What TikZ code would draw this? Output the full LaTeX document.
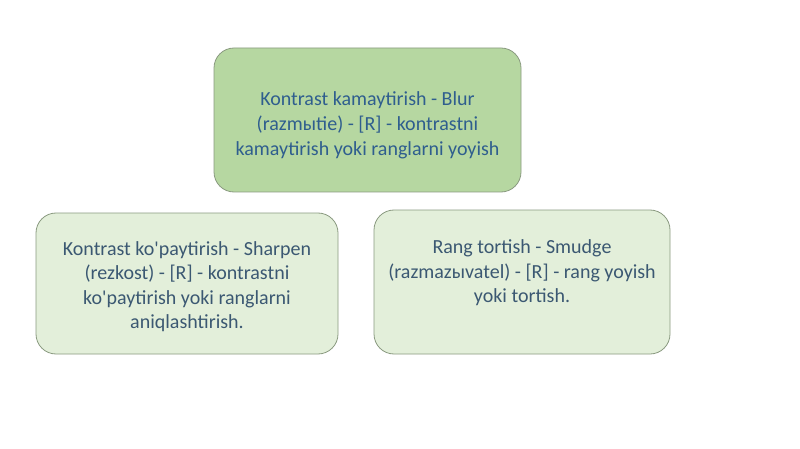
\documentclass[tikz,border=0pt]{standalone}
\usepackage{fontspec}
\setmainfont{Carlito}
\newfontfamily\boxfont{Carlito}
\definecolor{topfill}{HTML}{B6D7A1}
\definecolor{subfill}{HTML}{E3EFDA}
\definecolor{boxline}{HTML}{8A9A80}
\definecolor{toptext}{HTML}{2F5E8E}
\definecolor{subtext}{HTML}{3B5872}
\tikzset{
  box/.style={draw=boxline, line width=0.8pt, rounded corners=20pt, inner sep=0pt},
  topbox/.style={box, fill=topfill},
  subbox/.style={box, fill=subfill},
  txt/.style={align=center, inner sep=0pt, font=\boxfont\fontsize{20}{24.5}\selectfont},
}
\begin{document}
\begin{tikzpicture}[x=1pt,y=-1pt]
\useasboundingbox (0,0) rectangle (800,449);
\fill[white] (0,0) rectangle (800,449);
\node[topbox, minimum width=307pt, minimum height=144pt] (top) at (367.5,120) {};
\node[subbox, minimum width=302pt, minimum height=141pt] (left) at (187,283.5) {};
\node[subbox, minimum width=296pt, minimum height=144pt] (right) at (522,282) {};
\node[txt, text=toptext, font=\boxfont\fontsize{20}{25}\selectfont] (toptxt) at (367.5,125.5)
  {Kontrast kamaytirish - Blur\\(razmыtie) - [R] - kontrastni\\kamaytirish yoki ranglarni yoyish};
\node[txt, text=subtext] (lefttxt) at (187,286.5)
  {Kontrast ko'paytirish - Sharpen\\(rezkost) - [R] - kontrastni\\ko'paytirish yoki ranglarni\\aniqlashtirish.};
\node[txt, text=subtext] (righttxt) at (522,273)
  {Rang tortish - Smudge\\(razmazыvatel) - [R] - rang yoyish\\yoki tortish.};
\end{tikzpicture}
\end{document}
